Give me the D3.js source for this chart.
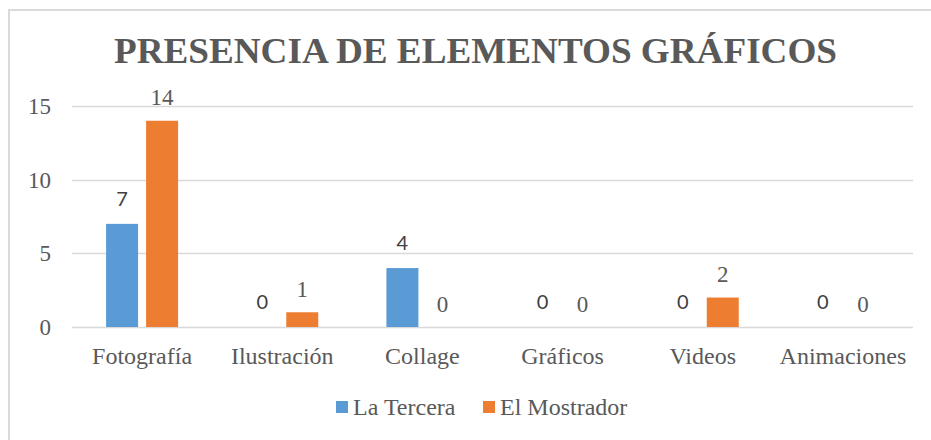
<!DOCTYPE html>
<html>
<head>
<meta charset="utf-8">
<script src="https://cdn.jsdelivr.net/npm/d3@7"></script>
<style>
  html, body { margin: 0; padding: 0; background: #fff; }
  svg { display: block; }
</style>
</head>
<body>
<svg id="chart" width="931" height="440"></svg>
<script>
const title = "PRESENCIA DE ELEMENTOS GRÁFICOS";
const categories = ["Fotografía", "Ilustración", "Collage", "Gráficos", "Videos", "Animaciones"];
const seriesNames = ["La Tercera", "El Mostrador"];
const laTercera = [7, 0, 4, 0, 0, 0];
const elMostrador = [14, 1, 0, 0, 2, 0];
const yTicks = [0, 5, 10, 15];

const colors = {"La Tercera": "#5b9bd5", "El Mostrador": "#ed7d31"};
const textColor = "#595959";
const serif = "'Liberation Serif', 'Times New Roman', serif";
const sans = "Lato, 'Liberation Sans', sans-serif";

const svg = d3.select("#chart");

// frame
svg.append("rect").attr("x", 9).attr("y", 10).attr("width", 940).attr("height", 450)
  .attr("fill", "none").attr("stroke", "#d9d9d9").attr("stroke-width", 2);

const plot = {left: 72, right: 913, top: 106, bottom: 327};

const x0 = d3.scaleBand().domain(categories).range([plot.left, plot.right]).paddingInner(0).paddingOuter(0);
const x1 = d3.scaleBand().domain(seriesNames).range([0, x0.bandwidth()]).paddingInner(0.2).paddingOuter(0.852);
const y = d3.scaleLinear().domain([0, 15]).range([plot.bottom, plot.top]);

// gridlines
svg.append("g").selectAll("line").data(yTicks).join("line")
  .attr("x1", plot.left).attr("x2", plot.right)
  .attr("y1", d => Math.round(y(d)) + 0.5).attr("y2", d => Math.round(y(d)) + 0.5)
  .attr("stroke", "#d9d9d9").attr("stroke-width", 1.5);

// y tick labels
svg.append("g").selectAll("text").data(yTicks).join("text")
  .attr("x", 51).attr("y", d => y(d)).attr("dy", "0.35em")
  .attr("text-anchor", "end").attr("fill", textColor)
  .style("font-family", serif).style("font-size", "23px")
  .text(d => d);

// category labels
svg.append("g").selectAll("text").data(categories).join("text")
  .attr("x", d => x0(d) + x0.bandwidth() / 2).attr("y", 364)
  .attr("text-anchor", "middle").attr("fill", textColor)
  .style("font-family", serif).style("font-size", "24px")
  .text(d => d);

const data = categories.map((c, i) => ({cat: c, values: [
  {s: "La Tercera", v: laTercera[i]},
  {s: "El Mostrador", v: elMostrador[i]}
]}));

const groups = svg.append("g").selectAll("g").data(data).join("g")
  .attr("transform", d => `translate(${x0(d.cat)},0)`);

groups.selectAll("rect").data(d => d.values).join("rect")
  .attr("x", d => x1(d.s)).attr("width", x1.bandwidth())
  .attr("y", d => y(d.v)).attr("height", d => y(0) - y(d.v))
  .attr("fill", d => colors[d.s]);

groups.selectAll("text").data(d => d.values).join("text")
  .attr("x", d => x1(d.s) + x1.bandwidth() / 2)
  .attr("y", d => y(d.v) - (d.s === "La Tercera" ? 18 : 15.5))
  .attr("text-anchor", "middle").attr("fill", d => d.s === "La Tercera" ? "#404040" : textColor)
  .style("font-family", d => d.s === "La Tercera" ? sans : serif)
  .style("font-size", d => d.s === "La Tercera" ? "20px" : "23px")
  .text(d => d.v);

// title
svg.append("text").attr("x", 114).attr("y", 63)
  .attr("textLength", 723).attr("lengthAdjust", "spacingAndGlyphs")
  .attr("fill", textColor).style("font-family", serif).style("font-weight", "bold")
  .style("font-size", "36px").text(title);

// legend
const legendX = [336, 483];
const legend = svg.append("g").selectAll("g").data(seriesNames).join("g")
  .attr("transform", (d, i) => `translate(${legendX[i]},401)`);
legend.append("rect").attr("width", 12).attr("height", 12).attr("fill", d => colors[d]);
legend.append("text").attr("x", 17).attr("y", 14).attr("fill", textColor)
  .style("font-family", serif).style("font-size", "24px").text(d => d);
</script>
</body>
</html>
